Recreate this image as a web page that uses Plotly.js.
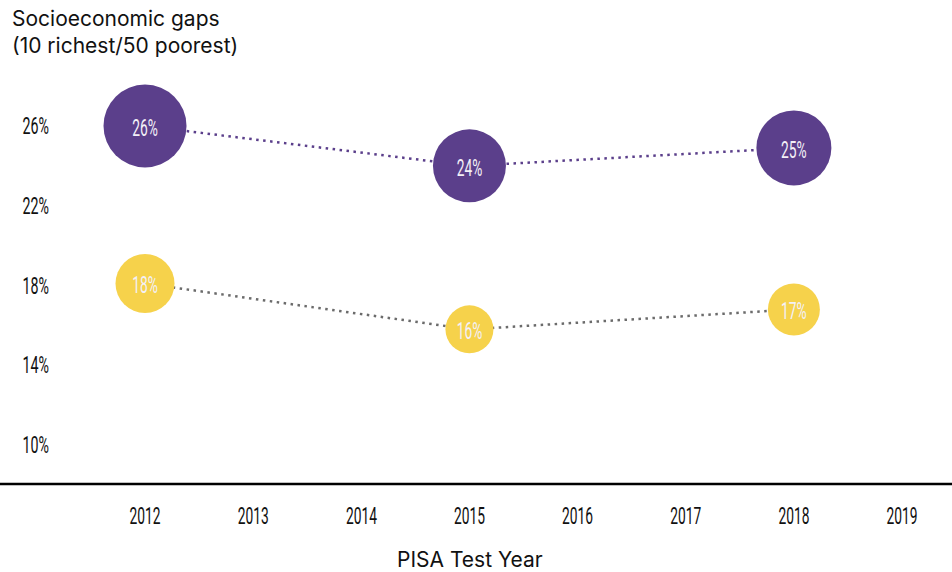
<!DOCTYPE html>
<html>
<head>
<meta charset="utf-8">
<script src="https://cdn.plot.ly/plotly-3.0.1.min.js"></script>
<style>
html,body{margin:0;padding:0;background:#fff;}
#chart{width:952px;height:572px;}
/* the reference uses a narrow display face: condense the number labels */
#chart g.xtick {transform-box: fill-box; transform-origin: center; transform: scaleX(0.6);}
#chart g.textpoint > text {transform-box: fill-box; transform-origin: center; transform: translateY(4px) scaleX(0.6);}
#chart g.ytick {transform-box: fill-box; transform-origin: right center; transform: scaleX(0.62);}
</style>
</head>
<body>
<div id="chart"></div>
<script>
// ---- data ----
const years = [2012, 2015, 2018];
const richestGap = [26.0, 24.0, 24.9];   // purple series
const poorestGap = [18.1, 15.8, 16.8];   // yellow series
const chartTitle = 'Socioeconomic gaps<br>(10 richest/50 poorest)';
const xTitle = 'PISA Test Year';

// ---- styles ----
const purple = '#5b3f8b';
const yellow = '#f6d24b';
const purpleSizes = [83, 73, 75];
const yellowSizes = [59, 48, 52];
const numFont = 'Roboto, "Liberation Sans", sans-serif';
const sans = 'Inter, "Noto Sans", sans-serif';

function series(y, color, lineColor, sizes) {
  return {
    x: years, y: y, type: 'scatter', mode: 'lines+markers+text',
    line: {color: lineColor, width: 2.5, dash: '2.5px,4.5px'},
    marker: {color: color, size: sizes, line: {width: 0}, opacity: 1},
    text: y.map(v => Math.round(v) + '%'),
    textposition: 'middle center',
    textfont: {family: numFont, size: 23, color: '#f3f0f7'},
    cliponaxis: false, hoverinfo: 'skip', showlegend: false
  };
}

const data = [
  series(richestGap, purple, purple, purpleSizes),
  series(poorestGap, yellow, '#6b6b6b', yellowSizes)
];

const layout = {
  width: 952, height: 572,
  margin: {l: 56, r: 0, t: 60, b: 88},
  paper_bgcolor: '#fff', plot_bgcolor: '#fff',
  title: {text: chartTitle, x: 12/952, xref: 'container', xanchor: 'left',
          y: 1 - 26/572, yref: 'container', yanchor: 'top',
          font: {family: sans, size: 21, color: '#111'}},
  xaxis: {range: [2011.177, 2019.462], tickmode: 'linear', tick0: 2012, dtick: 1,
          showgrid: false, zeroline: false, showline: false, ticks: '',
          ticklabelstandoff: 16,
          tickfont: {family: numFont, size: 23, color: '#111'}},
  yaxis: {range: [8.044, 29.31], tickmode: 'linear', tick0: 10, dtick: 4, ticksuffix: '%',
          showgrid: false, zeroline: false, showline: false, ticks: '',
          ticklabelstandoff: 6,
          tickfont: {family: numFont, size: 23, color: '#111'}},
  shapes: [{type: 'line', xref: 'paper', yref: 'paper', x0: -56/896, x1: 1, y0: 0, y1: 0,
            line: {color: '#000', width: 2.5}}],
  annotations: [{text: xTitle, xref: 'paper', yref: 'paper', x: (470-56)/896, y: 0,
                 yshift: -75, xanchor: 'center', yanchor: 'middle', showarrow: false,
                 font: {family: sans, size: 21, color: '#111'}}]
};

Plotly.newPlot('chart', data, layout, {displayModeBar: false, staticPlot: true});
</script>
</body>
</html>
